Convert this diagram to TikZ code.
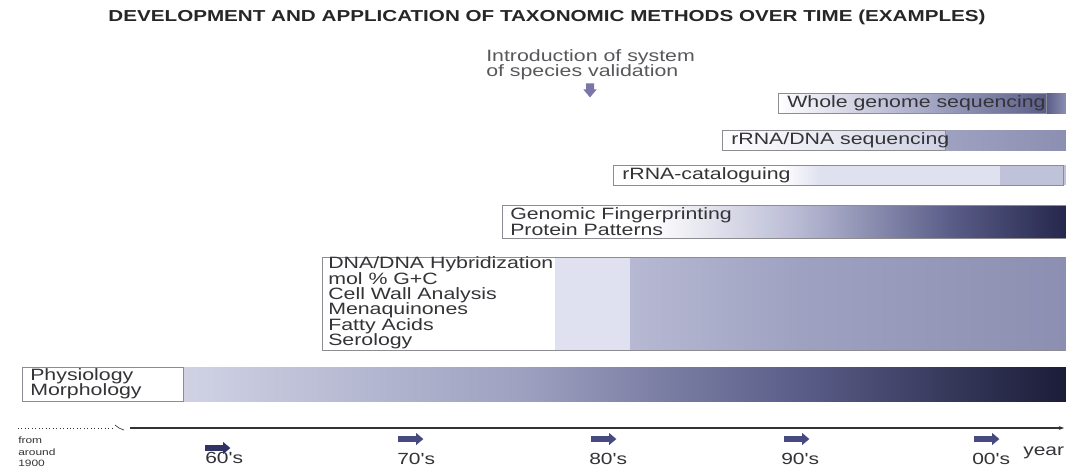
\documentclass[tikz,border=0pt]{standalone}
\usepackage{fontspec}
\newfontfamily\rfont{Liberation Sans}[FakeStretch=1.3]
\usepackage{tikz}
\usetikzlibrary{shapes.arrows, arrows.meta, positioning}

\definecolor{txtgray}{RGB}{52,52,56}
\definecolor{introgray}{RGB}{88,88,92}
\definecolor{boxgray}{RGB}{140,140,146}
\definecolor{arrblue}{RGB}{70,74,128}
\definecolor{arrdark}{RGB}{48,52,100}
\definecolor{validpurple}{RGB}{122,118,168}
\definecolor{navy}{RGB}{27,28,56}
\definecolor{bpale}{RGB}{224,225,240}
\definecolor{blight}{RGB}{208,210,228}
\definecolor{bsoft}{RGB}{183,185,211}
\definecolor{bcat}{RGB}{192,194,217}
\definecolor{bmid}{RGB}{158,161,192}
\definecolor{bmid2}{RGB}{140,143,177}
\definecolor{bdeep}{RGB}{90,93,136}
\definecolor{bdark}{RGB}{37,39,76}
\newcommand\tightlines{\lineskiplimit=-6pt\relax}

\begin{document}
\begin{tikzpicture}[
    x=0.75pt, y=-0.75pt,
    lbl/.style={anchor=west, inner sep=0pt, align=left, text=txtgray, font={\rfont\fontsize{12.3}{11.6}\selectfont\tightlines}},
    small/.style={anchor=north west, inner sep=0pt, align=left, text=txtgray, font=\rfont\fontsize{6.9}{8.3}\selectfont},
    tbox/.style={draw=boxgray, line width=0.6pt},
    axis/.style={draw=black!80, line width=0.9pt},
    dec/.style={single arrow, fill=arrblue, minimum height=19pt, inner xsep=0pt, inner ysep=1.9pt, single arrow head extend=2.4pt, single arrow tip angle=80},
    declbl/.style={anchor=west, inner sep=0pt, text=txtgray, font=\rfont\fontsize{12.1}{14}\selectfont},
  ]
    \useasboundingbox (0,0) rectangle (1066,472);
    \fill[white] (0,0) rectangle (1066,472);

    \node[inner sep=0pt, text=black!85, font=\rfont\bfseries\fontsize{11.9}{14}\selectfont] (title) at (547,17)
      {DEVELOPMENT AND APPLICATION OF TAXONOMIC METHODS OVER TIME (EXAMPLES)};

    \node[lbl, anchor=north west, text=introgray] (intro) at (486,49) {Introduction of system\\of species validation};
    \node[single arrow, shape border rotate=270, fill=validpurple, minimum height=10.5pt,
      inner sep=2.8pt, single arrow head extend=2pt, single arrow tip angle=80] (valid) at (590,88) {};

    \shade[left color=white, right color=bsoft] (778,93) rectangle (900,113);
    \shade[left color=bsoft, right color=bdeep] (900,93) rectangle (1046,113);
    \shade[left color=bdeep, right color=bmid2] (1046,93) rectangle (1066,113);
    \draw[tbox] (778,93) rectangle (1046,113);
    \node[lbl] (wgs) at (787,103) {Whole genome sequencing};

    \shade[left color=white, right color=blight] (722,130) rectangle (945,150);
    \shade[left color=bmid, right color=bmid2] (945,130) rectangle (1066,150);
    \draw[tbox] (722,130) rectangle (945,150);
    \node[lbl] (rdna) at (731,140) {rRNA/DNA sequencing};

    \shade[left color=white, right color=bpale] (780,165) rectangle (820,185);
    \fill[bpale] (820,165) rectangle (1000,185);
    \fill[bcat] (1000,165) rectangle (1066,185);
    \draw[tbox] (613,165) rectangle (1063,185);
    \node[lbl] (rcat) at (622,175) {rRNA-cataloguing};

    \shade[left color=white, right color=bsoft] (650,205) rectangle (800,238);
    \shade[left color=bsoft, right color=bdeep] (800,205) rectangle (950,238);
    \shade[left color=bdeep, right color=bdark] (950,205) rectangle (1066,238);
    \draw[tbox] (502,205) rectangle (1066,238);
    \node[lbl] (gfp) at (510,221.5) {Genomic Fingerprinting\\Protein Patterns};

    \fill[bpale] (555,257) rectangle (630,350);
    \shade[left color=bsoft, right color=bmid] (630,257) rectangle (800,350);
    \shade[left color=bmid, right color=bmid2] (800,257) rectangle (1066,350);
    \draw[tbox] (322,257) rectangle (1066,350);
    \node[lbl] (dna) at (328,303) {DNA/DNA Hybridization\\mol \% G+C\\Cell Wall Analysis\\Menaquinones\\Fatty Acids\\Serology};

    \shade[left color=blight, right color=bmid] (183,367) rectangle (520,401);
    \shade[left color=bmid, right color=bdeep] (520,367) rectangle (800,401);
    \shade[left color=bdeep, right color=navy] (800,367) rectangle (1066,401);
    \draw[tbox] (22,367) rectangle (183,401);
    \node[lbl] (phys) at (30,384) {Physiology\\Morphology};

    \coordinate (t0) at (18,428);
    \coordinate (tb) at (114,428);
    \coordinate (ts) at (130,428);
    \coordinate (tend) at (1064,428);
    \draw[axis, line width=0.6pt, dotted] (t0) -- (tb);
    \draw[axis, line width=0.5pt] (tb) ++(1,-3) -- ++(4,3) -- ++(5,2);
    \draw[axis, -{Stealth[length=4pt, width=3pt]}] (ts) -- (tend);

    \node[small] (start) at (18,437) {from\\around\\1900};

    \node[declbl] (l60) at (205,458) {60's};
    \node[dec, fill=arrdark] (a60) at (216,448) {};
    \node[dec] (a70) at (409,439) {};
    \node[declbl] (l70) at (397,459) {70's};
    \node[dec] (a80) at (602,439) {};
    \node[declbl] (l80) at (589,459) {80's};
    \node[dec] (a90) at (795,439) {};
    \node[declbl] (l90) at (781,459) {90's};
    \node[dec] (a00) at (985,439) {};
    \node[declbl] (l00) at (972,459) {00's};
    \node[declbl] (yr) at (1023,453) {year};
  \end{tikzpicture}
\end{document}
